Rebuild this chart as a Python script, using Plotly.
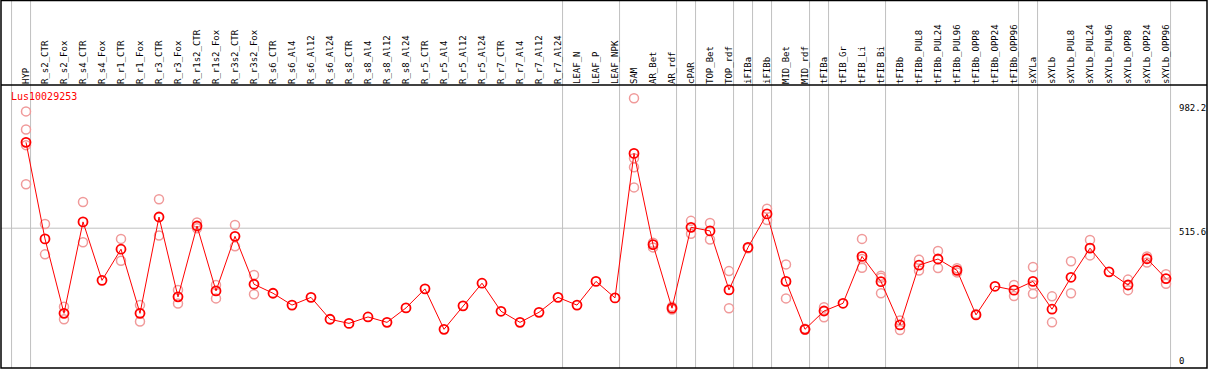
import plotly.graph_objects as go

categories = ["HYP", "R_s2_CTR", "R_s2_Fox", "R_s4_CTR", "R_s4_Fox", "R_r1_CTR", "R_r1_Fox",
              "R_r3_CTR", "R_r3_Fox", "R_r1s2_CTR", "R_r1s2_Fox", "R_r3s2_CTR", "R_r3s2_Fox",
              "R_s6_CTR", "R_s6_Al4", "R_s6_Al12", "R_s6_Al24", "R_s8_CTR", "R_s8_Al4", "R_s8_Al12",
              "R_s8_Al24", "R_r5_CTR", "R_r5_Al4", "R_r5_Al12", "R_r5_Al24", "R_r7_CTR", "R_r7_Al4",
              "R_r7_Al12", "R_r7_Al24", "LEAF_N", "LEAF_P", "LEAF_NPK", "SAM", "AR_Bet", "AR_rdf",
              "cPAR", "TOP_Bet", "TOP_rdf", "iFIBa", "iFIBb", "MID_Bet", "MID_rdf", "tFIBa",
              "tFIB_Gr", "tFIB_Li", "tFIB_Bi", "tFIBb", "tFIBb_PUL8", "tFIBb_PUL24", "tFIBb_PUL96",
              "tFIBb_OPP8", "tFIBb_OPP24", "tFIBb_OPP96", "sXYLa", "sXYLb", "sXYLb_PUL8",
              "sXYLb_PUL24", "sXYLb_PUL96", "sXYLb_OPP8", "sXYLb_OPP24", "sXYLb_OPP96"]

mean_values = [849, 474, 185, 540, 313, 434, 185, 559, 249, 524, 272, 484, 298,
               263, 217, 247, 162, 146, 171, 150, 206, 280, 123, 214, 302, 193, 150,
               189, 247, 217, 309, 245, 806, 452, 205, 519, 505, 276, 441, 571, 309,
               123, 194, 224, 406, 308, 140, 372, 396, 352, 179, 290, 275, 309, 201,
               325, 438, 346, 295, 397, 320]

rep_categories = ["HYP", "HYP", "HYP", "HYP", "R_s2_CTR", "R_s2_CTR", "R_s2_Fox", "R_s2_Fox",
                  "R_s4_CTR", "R_s4_CTR", "R_r1_CTR", "R_r1_CTR", "R_r1_Fox", "R_r1_Fox",
                  "R_r3_CTR", "R_r3_CTR", "R_r3_Fox", "R_r3_Fox", "R_r1s2_CTR", "R_r1s2_CTR",
                  "R_r1s2_Fox", "R_r1s2_Fox", "R_r3s2_CTR", "R_r3s2_CTR", "R_r3s2_Fox", "R_r3s2_Fox",
                  "SAM", "SAM", "SAM", "SAM", "AR_Bet", "AR_Bet", "AR_rdf", "AR_rdf",
                  "cPAR", "cPAR", "TOP_Bet", "TOP_Bet", "TOP_rdf", "TOP_rdf", "iFIBa",
                  "iFIBb", "iFIBb", "MID_Bet", "MID_Bet", "MID_rdf", "MID_rdf",
                  "tFIBa", "tFIBa", "tFIB_Li", "tFIB_Li", "tFIB_Li", "tFIB_Bi", "tFIB_Bi", "tFIB_Bi",
                  "tFIBb", "tFIBb", "tFIBb_PUL8", "tFIBb_PUL8", "tFIBb_PUL24", "tFIBb_PUL24",
                  "tFIBb_PUL96", "tFIBb_PUL96", "tFIBb_OPP8", "tFIBb_OPP96", "tFIBb_OPP96",
                  "sXYLa", "sXYLa", "sXYLa", "sXYLb", "sXYLb", "sXYLb_PUL8", "sXYLb_PUL8",
                  "sXYLb_PUL24", "sXYLb_PUL24", "sXYLb_OPP8", "sXYLb_OPP8", "sXYLb_OPP24",
                  "sXYLb_OPP24", "sXYLb_OPP96", "sXYLb_OPP96"]
rep_values = [969, 899, 838, 686, 532, 414, 211, 162,
              617, 461, 474, 389, 217, 153,
              628, 487, 276, 223, 538, 515,
              295, 243, 528, 445, 334, 259,
              1020, 787, 752, 674, 459, 441, 211, 200,
              544, 494, 536, 472, 349, 205, 438,
              591, 547, 375, 243, 125, 121,
              209, 170, 474, 362, 396, 331, 263, 323,
              157, 120, 393, 351, 427, 361,
              360, 344, 182, 295, 252,
              365, 295, 261, 251, 150, 387, 263,
              470, 410, 316, 275, 406, 382,
              337, 300]

separator_after = [-1, 0, 28, 31, 34, 35, 37, 38, 39, 41, 42, 45, 52, 53, 60]
y_labels = [982.2, 515.6, 0]
gene_name = "Lus10029253"

idx = {c: i for i, c in enumerate(categories)}
x_main = [idx[c] for c in categories]
x_rep = [idx[c] for c in rep_categories]

MONO = "DejaVu Sans Mono"
fig = go.Figure()

fig.add_trace(go.Scatter(
    x=x_rep, y=rep_values, mode="markers",
    marker=dict(symbol="circle-open", size=9, color="#f09a9a", line=dict(width=1.5)),
    hoverinfo="skip", showlegend=False))

fig.add_trace(go.Scatter(
    x=x_main, y=mean_values, mode="lines+markers",
    line=dict(color="#ff0000", width=1),
    marker=dict(symbol="circle-open", size=9, color="#ff0000", line=dict(width=1.8)),
    showlegend=False))

top_paper = 1 + 84.5 / 283

shapes = []
for s in separator_after:
    xv = s + 0.24
    shapes.append(dict(type="line", xref="x", yref="paper", x0=xv, x1=xv, y0=0, y1=top_paper,
                       line=dict(color="#c0c0c0", width=1), layer="below"))
shapes.append(dict(type="line", xref="paper", yref="y", x0=0, x1=(1170 - 1) / 1206,
                   y0=y_labels[1], y1=y_labels[1], line=dict(color="#c0c0c0", width=1), layer="below"))
shapes.append(dict(type="line", xref="paper", yref="paper", x0=0, x1=1, y0=1, y1=1,
                   line=dict(color="black", width=1.5)))
shapes.append(dict(type="rect", xref="paper", yref="paper", x0=0, x1=1, y0=0, y1=top_paper,
                   line=dict(color="black", width=1.5)))

annotations = [dict(text=gene_name, xref="paper", yref="paper", x=(9 - 1) / 1206, y=(368 - 97) / 283,
                    xanchor="left", yanchor="middle", showarrow=False,
                    font=dict(family=MONO, size=10, color="#ff0000"))]
for v, shift in zip(y_labels, [0, -4, 0]):
    annotations.append(dict(text=f"{v:g}", xref="paper", yref="y", x=(1177 - 1) / 1206, y=v,
                            yshift=shift, xanchor="left", yanchor="middle", showarrow=False,
                            font=dict(family=MONO, size=9, color="black")))

fig.update_layout(
    width=1209, height=370,
    margin=dict(l=1, r=2, t=85, b=2),
    paper_bgcolor="white", plot_bgcolor="white",
    xaxis=dict(range=[-25 / 19, 1181 / 19], side="top", tickmode="array",
               tickvals=x_main, ticktext=categories, tickangle=-90,
               tickfont=dict(family=MONO, size=9, color="black"),
               showgrid=False, zeroline=False, showline=False, ticks="", ticklen=0),
    yaxis=dict(range=[-27.2, 1071.5], showgrid=False, zeroline=False, showticklabels=False,
               showline=False, ticks=""),
    shapes=shapes, annotations=annotations,
)

fig.write_html("out.html", config={"displayModeBar": False},
               post_script="document.body.style.margin='0';document.body.style.overflow='hidden';")
